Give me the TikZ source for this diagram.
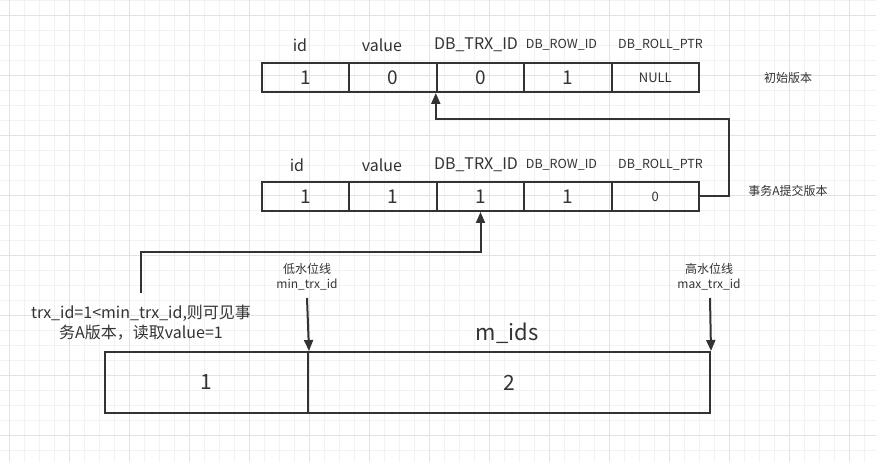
\documentclass[tikz,border=0pt]{standalone}
\usepackage{fontspec}
\setmainfont{Noto Sans CJK SC}
\usetikzlibrary{arrows.meta}
\definecolor{ink}{HTML}{333333}
\definecolor{gridminor}{HTML}{F2F2F2}
\definecolor{gridmajor}{HTML}{E3E3E3}
\tikzset{
  cellbox/.style={draw=ink, line width=2pt, minimum width=87.4pt, minimum height=29pt, inner sep=0pt, text=ink, font=\fontsize{19}{21}\selectfont},
  smallcell/.style={cellbox, font=\fontsize{13}{15}\selectfont},
  hdr/.style={text=ink, inner sep=0pt, font=\fontsize{16}{18}\selectfont},
  smallhdr/.style={text=ink, inner sep=0pt, font=\fontsize{12.5}{14}\selectfont},
  note/.style={text=ink, inner sep=0pt, align=center, font=\fontsize{12}{15}\selectfont},
  conn/.style={draw=ink, line width=2pt},
  arr/.style={conn, -{Triangle[length=11pt,width=9pt]}},
  mbox/.style={draw=ink, line width=2pt, minimum height=61pt, inner sep=0pt, text=ink, font=\fontsize{21}{24}\selectfont}
}
\begin{document}
\begin{tikzpicture}[x=1pt,y=-1pt]
\useasboundingbox (0,0) rectangle (876,462);
\fill[white] (0,0) rectangle (876,462);
% grid
\foreach \x in {9,24,...,876} \draw[gridminor, line width=0.8pt] (\x,0) -- (\x,462);
\foreach \y in {0,15,...,462} \draw[gridminor, line width=0.8pt] (0,\y) -- (876,\y);
\foreach \x in {9,69,...,876} \draw[gridmajor, line width=0.8pt] (\x,0) -- (\x,462);
\foreach \y in {15,75,...,462} \draw[gridmajor, line width=0.8pt] (0,\y) -- (876,\y);

% top table headers
\node[hdr] (h1a) at (300,45) {id};
\node[hdr] (h1b) at (382,45) {value};
\node[hdr] (h1c) at (476,45) {DB\_TRX\_ID};
\node[smallhdr] (h1d) at (561.5,45) {DB\_ROW\_ID};
\node[smallhdr] (h1e) at (660.5,45) {DB\_ROLL\_PTR};
% top table cells
\node[cellbox] (t1a) at (305.7,77.5) {1};
\node[cellbox] (t1b) at (393.1,77.5) {0};
\node[cellbox] (t1c) at (480.5,77.5) {0};
\node[cellbox] (t1d) at (567.9,77.5) {1};
\node[smallcell] (t1e) at (655.3,77.5) {NULL};
\node[note] (v1) at (788,78) {初始版本};

% second table headers
\node[hdr] (h2a) at (297,165) {id};
\node[hdr] (h2b) at (382,165) {value};
\node[hdr] (h2c) at (476,165) {DB\_TRX\_ID};
\node[smallhdr] (h2d) at (561.5,165) {DB\_ROW\_ID};
\node[smallhdr] (h2e) at (660.5,165) {DB\_ROLL\_PTR};
% second table cells
\node[cellbox] (t2a) at (305.7,196.5) {1};
\node[cellbox] (t2b) at (393.1,196.5) {1};
\node[cellbox] (t2c) at (480.5,196.5) {1};
\node[cellbox] (t2d) at (567.9,196.5) {1};
\node[smallcell] (t2e) at (655.3,196.5) {0};
\node[note] (v2) at (788,191) {事务A提交版本};

% connector from version A to initial version
\coordinate (k1) at (729,119);
\draw[arr] (t2e.east) -| (k1) -| (t1c.south west);

% explanatory text
\node[text=ink, inner sep=0pt, align=center, font=\fontsize{16}{20}\selectfont] (txt) at (141,323) {trx\_id=1<min\_trx\_id,则可见事\\务A版本，读取value=1};
\coordinate (s2) at (141,293);
\coordinate (k2) at (141,252);
\draw[arr] (s2) -- (k2) -| (t2c.south);

% m_ids
\node[text=ink, inner sep=0pt, font=\fontsize{22}{26}\selectfont] (mlbl) at (507,333) {m\_ids};
\node[mbox, minimum width=203pt] (m1) at (206.5,382.5) {1};
\node[mbox, minimum width=402pt] (m2) at (509,382.5) {2};

% water marks
\node[note] (low) at (307,277) {低水位线\\min\_trx\_id};
\node[note] (high) at (709,277) {高水位线\\max\_trx\_id};
\coordinate (a1) at (307,298);
\coordinate (a2) at (710,298);
\draw[arr] (a1) -- (m1.north east);
\draw[arr] (a2) -- (m2.north east);
\end{tikzpicture}
\end{document}
